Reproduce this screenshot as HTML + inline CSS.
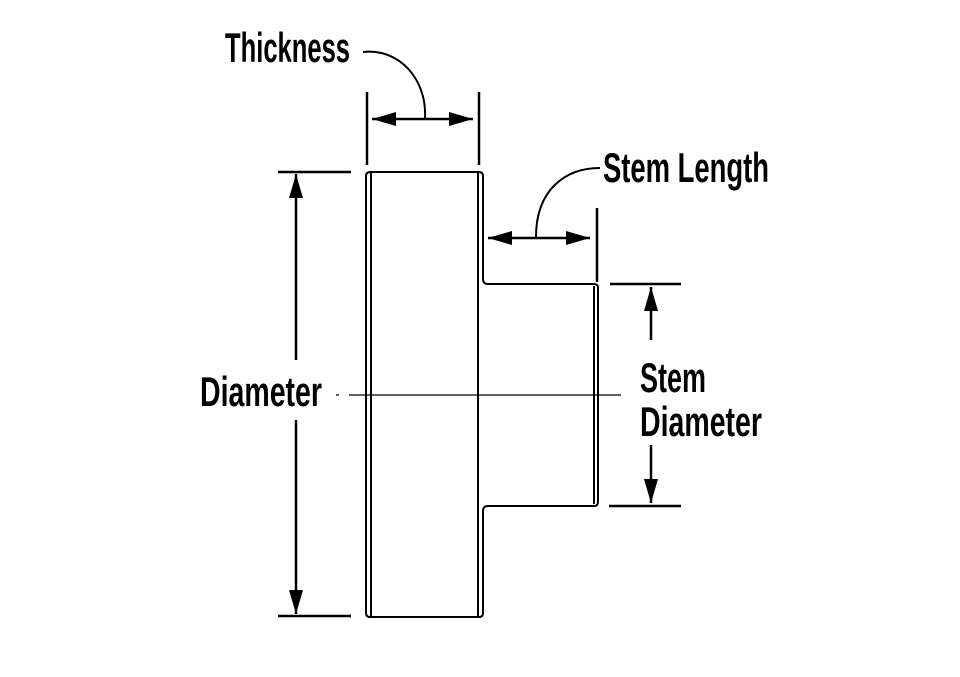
<!DOCTYPE html>
<html><head><style>html,body{margin:0;padding:0;background:#fff;}svg{display:block}</style></head>
<body>
<svg width="960" height="677" viewBox="0 0 960 677" xmlns="http://www.w3.org/2000/svg">
<defs>
<marker id="b" viewBox="0 0 14 10" refX="14" refY="5" markerWidth="24" markerHeight="14" markerUnits="userSpaceOnUse" orient="auto-start-reverse" preserveAspectRatio="none">
<path d="M0,0 L14,5 L0,10 z" fill="#000"/>
</marker>
</defs>
<g fill="none" stroke="#000" stroke-width="2">
<path d="M366,176 Q366,172 370,172 L479,172 Q483,172 483,176 L483,279 Q483,284 488,284 L594,284 Q598,284 598,288 L598,502 Q598,506 594,506 L488,506 Q483,506 483,511 L483,613 Q483,617 479,617 L370,617 Q366,617 366,613 Z"/>
<line x1="371" y1="173" x2="371" y2="616"/>
<line x1="478" y1="173" x2="478" y2="616"/>
<line x1="594" y1="286" x2="594" y2="504"/>
</g>
<g stroke="#000" stroke-width="1.3">
<line x1="349" y1="395" x2="621" y2="395"/>
<line x1="336" y1="395" x2="339" y2="395"/>
</g>
<g stroke="#000" stroke-width="2.5" fill="none">
<line x1="367" y1="92" x2="367" y2="165"/>
<line x1="479" y1="92" x2="479" y2="165"/>
<line x1="372" y1="119" x2="473" y2="119" marker-start="url(#b)" marker-end="url(#b)"/>
<path d="M363,52 C400,48 427,80 425,118" stroke-width="2"/>
<line x1="597" y1="208" x2="597" y2="282"/>
<line x1="488" y1="238" x2="590" y2="238" marker-start="url(#b)" marker-end="url(#b)"/>
<path d="M600,168 C565,168 536,190 536,237" stroke-width="2"/>
<line x1="278" y1="172" x2="351" y2="172"/>
<line x1="278" y1="616" x2="351" y2="616"/>
<line x1="296" y1="360" x2="296" y2="174" marker-end="url(#b)"/>
<line x1="296" y1="420" x2="296" y2="614" marker-end="url(#b)"/>
<line x1="610" y1="284" x2="681" y2="284"/>
<line x1="609" y1="506" x2="681" y2="506"/>
<line x1="651" y1="340" x2="651" y2="287" marker-end="url(#b)"/>
<line x1="651" y1="445" x2="651" y2="503" marker-end="url(#b)"/>
</g>
<g font-family="'Liberation Sans Narrow','Liberation Sans',sans-serif" font-weight="bold" font-size="42" fill="#000">
<text x="225" y="62" textLength="125" lengthAdjust="spacingAndGlyphs">Thickness</text>
<text x="603" y="182" textLength="166" lengthAdjust="spacingAndGlyphs">Stem Length</text>
<text x="200" y="406" textLength="122" lengthAdjust="spacingAndGlyphs">Diameter</text>
<text x="640" y="392" textLength="66" lengthAdjust="spacingAndGlyphs">Stem</text>
<text x="640" y="436" textLength="122" lengthAdjust="spacingAndGlyphs">Diameter</text>
</g>
</svg>
</body></html>
